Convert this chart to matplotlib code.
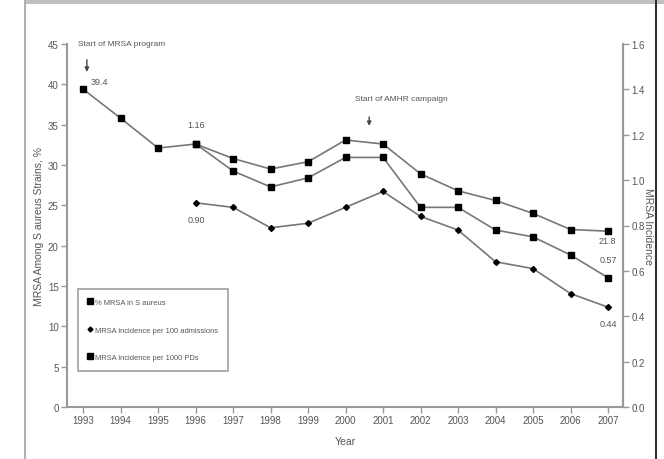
import matplotlib
matplotlib.use('Agg')
import matplotlib.pyplot as plt
from matplotlib.lines import Line2D
from matplotlib.patches import Rectangle

# data
years = list(range(1993, 2008))
pct_mrsa = [39.4, 35.8, 32.1, 32.6, 30.8, 29.5, 30.4, 33.1, 32.6, 28.9, 26.8, 25.6, 24.0, 22.0, 21.8]
inc_years = list(range(1996, 2008))
per_100_adm = [0.90, 0.88, 0.79, 0.81, 0.88, 0.95, 0.84, 0.78, 0.64, 0.61, 0.50, 0.44]
per_1000_pd = [1.16, 1.04, 0.97, 1.01, 1.10, 1.10, 0.88, 0.88, 0.78, 0.75, 0.67, 0.57]
left_ticks = [0, 5, 10, 15, 20, 25, 30, 35, 40, 45]
right_ticks = [0.0, 0.2, 0.4, 0.6, 0.8, 1.0, 1.2, 1.4, 1.6]
legend_labels = ['% MRSA in S aureus', 'MRSA incidence per 100 admissions', 'MRSA incidence per 1000 PDs']

plt.rcParams['font.family'] = ['Liberation Sans', 'DejaVu Sans']
text_col = '#555555'
axis_col = '#999999'
line_col = '#777777'

fig = plt.figure(figsize=(6.64, 4.6), dpi=100)
ax = fig.add_axes([67 / 664, 52 / 460, 556 / 664, 363 / 460])
ax2 = ax.twinx()

# frame around the figure
fig.add_artist(Rectangle((25 / 664, 455 / 460), 1 - 25 / 664, 5 / 460, transform=fig.transFigure,
                         color='#c0c0c0', lw=0))
fig.add_artist(Line2D([25 / 664, 25 / 664], [0, 1], transform=fig.transFigure, color='#b0b0b0', lw=1.5))
fig.add_artist(Line2D([656 / 664, 656 / 664], [0, 1], transform=fig.transFigure, color='#333333', lw=1.5))

ax.plot(years, pct_mrsa, color=line_col, lw=1.2, marker='s', ms=4.5, mfc='black', mec='black')
ax2.plot(inc_years, per_100_adm, color=line_col, lw=1.2, marker='D', ms=3, mfc='black', mec='black')
ax2.plot(inc_years, per_1000_pd, color=line_col, lw=1.2, marker='s', ms=4.5, mfc='black', mec='black')

ax.set_xlim(1992.57, 2007.4)
ax.set_ylim(0, 45)
ax2.set_ylim(0, 1.6)
ax.set_xticks(years)
ax.set_xticklabels([str(y) for y in years])
ax.set_yticks(left_ticks)
ax2.set_yticks(right_ticks)
ax2.set_yticklabels(['%.1f' % t for t in right_ticks])

for a in (ax, ax2):
    a.spines['top'].set_visible(False)
    for s in a.spines.values():
        s.set_color(axis_col)
        s.set_linewidth(1.5)
    a.tick_params(direction='out', length=4, width=1, color=axis_col, labelsize=7,
                  labelcolor=text_col, pad=2)
ax2.spines['left'].set_visible(False)
ax2.spines['bottom'].set_visible(False)

ax.set_xlabel('Year', fontsize=7.5, color=text_col, labelpad=8)
ax.set_ylabel('MRSA Among S aureus Strains, %', fontsize=7.5, color=text_col, labelpad=3)
ax2.set_ylabel('MRSA Incidence', fontsize=7.5, color=text_col, rotation=270, labelpad=6)

# annotations
ax.text(1992.87, 45.0, 'Start of MRSA program', fontsize=6, color=text_col, ha='left', va='center',
        clip_on=False)
ax.annotate('', xy=(1993.1, 41.2), xytext=(1993.1, 43.4),
            arrowprops=dict(arrowstyle='-|>', color='#444444', lw=1, mutation_scale=6))
ax.text(2001.5, 38.2, 'Start of AMHR campaign', fontsize=6, color=text_col, ha='center', va='center')
ax.annotate('', xy=(2000.63, 34.5), xytext=(2000.63, 36.3),
            arrowprops=dict(arrowstyle='-|>', color='#444444', lw=1, mutation_scale=6))

ax.text(1993.44, 40.3, '39.4', fontsize=6.5, color=text_col, ha='center', va='center')
ax.text(1996.02, 35.0, '1.16', fontsize=6.5, color=text_col, ha='center', va='center')
ax.text(1996.02, 23.2, '0.90', fontsize=6.5, color=text_col, ha='center', va='center')
ax.text(2006.98, 20.6, '21.8', fontsize=6.5, color=text_col, ha='center', va='center')
ax.text(2007.0, 18.3, '0.57', fontsize=6.5, color=text_col, ha='center', va='center')
ax.text(2007.0, 10.3, '0.44', fontsize=6.5, color=text_col, ha='center', va='center')

handles = [
    Line2D([], [], ls='none', marker='s', ms=4, color='black'),
    Line2D([], [], ls='none', marker='D', ms=2.5, color='black'),
    Line2D([], [], ls='none', marker='s', ms=4, color='black'),
]
leg = ax2.legend(handles, legend_labels, loc='upper left', bbox_to_anchor=(0.02, 0.325),
                 fontsize=5.4, frameon=True, fancybox=False, handlelength=0.5, handletextpad=0.5,
                 labelspacing=2.7, borderpad=1.3, borderaxespad=0, labelcolor=text_col)
leg.get_frame().set_edgecolor('#888888')
leg.get_frame().set_linewidth(1.2)

fig.savefig('out.png', dpi=100)
